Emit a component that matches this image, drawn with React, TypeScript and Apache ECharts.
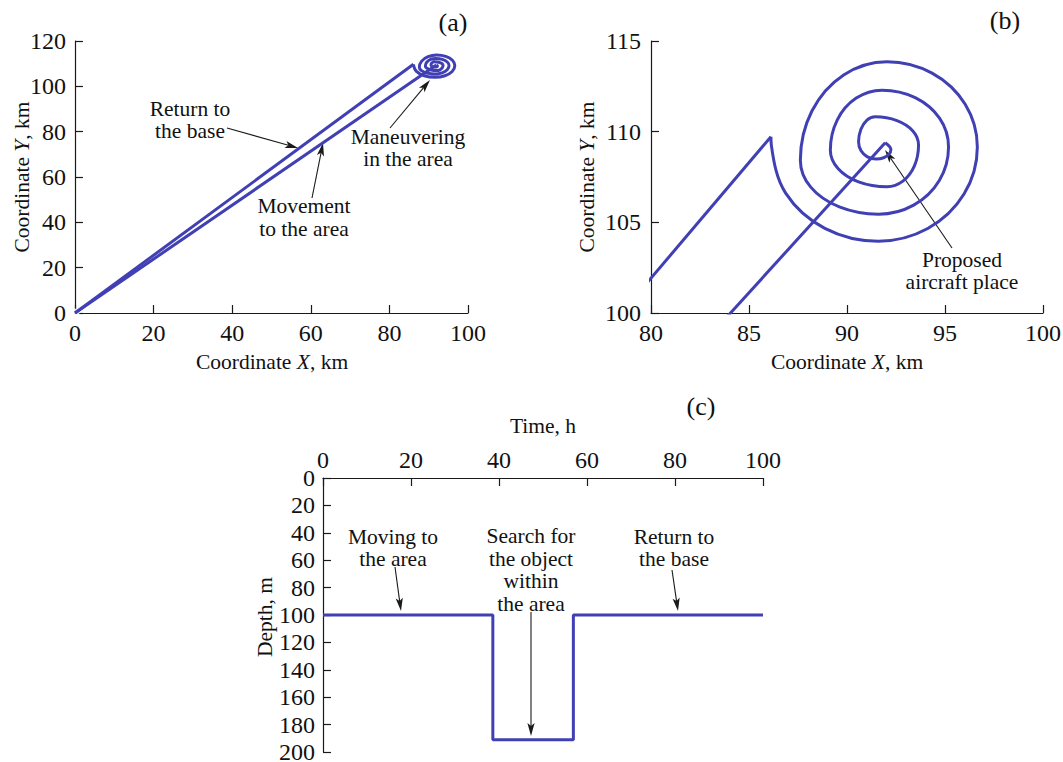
import React, { useEffect, useRef } from "react";
import * as echarts from "echarts";

// ---------- data ----------
// Trajectory of the aircraft in the horizontal plane (km)
const inboundPath: number[][] = [
  [0, 0],
  [91.95, 109.39],
];
// Search spiral, from the proposed aircraft place outwards
const spiralPath: number[][] = [
  [91.95, 109.39],
  [92.24, 109.02],
  [92.14, 108.75],
  [91.87, 108.56],
  [91.49, 108.49],
  [91.04, 108.61],
  [90.71, 108.96],
  [90.59, 109.44],
  [90.71, 110.13],
  [91.02, 110.64],
  [91.44, 110.82],
  [92.55, 110.61],
  [93.36, 110.04],
  [93.65, 109.26],
  [93.44, 108.11],
  [92.85, 107.27],
  [92.04, 106.96],
  [90.59, 107.23],
  [89.54, 107.97],
  [89.15, 108.98],
  [89.5, 110.64],
  [90.47, 111.85],
  [91.79, 112.29],
  [93.48, 111.88],
  [94.73, 110.73],
  [95.18, 109.16],
  [94.71, 107.31],
  [93.4, 105.95],
  [91.61, 105.45],
  [89.61, 105.85],
  [88.15, 106.94],
  [87.62, 108.43],
  [88.21, 111.14],
  [89.83, 113.13],
  [92.04, 113.86],
  [94.34, 113.23],
  [96.03, 111.51],
  [96.65, 109.16],
  [95.97, 106.56],
  [94.12, 104.66],
  [91.6, 103.96],
  [88.87, 104.67],
  [86.87, 106.61],
  [86.14, 109.26],
  [86.12, 109.72],
];
const returnPath: number[][] = [
  [86.12, 109.72],
  [0, 0],
];
const basePoint: number[][] = [[0, 0]];

// Depth profile over time
const timeH = [0, 38.6, 38.6, 56.9, 56.9, 100];
const depthM = [100, 100, 191, 191, 100, 100];

// Axis ranges / tick steps
const axA = { xMin: 0, xMax: 100, xStep: 20, yMin: 0, yMax: 120, yStep: 20 };
const axB = { xMin: 80, xMax: 100, xStep: 5, yMin: 100, yMax: 115, yStep: 5 };
const axC = { xMin: 0, xMax: 100, xStep: 20, yMin: 0, yMax: 200, yStep: 20 };

// ---------- style ----------
const SERIF = "'Liberation Serif', 'Times New Roman', serif";
const LINE_COLOR = "#4040b4";
const INK = "#1a1a1a";
const TICK_FS = 24;
const TEXT_FS = 21.5;

function labelStyle(margin: number, extra: any = {}) {
  return {
    fontFamily: SERIF,
    fontSize: TICK_FS,
    color: "#111",
    showMinLabel: true,
    showMaxLabel: true,
    margin,
    ...extra,
  };
}

function axis(extra: any) {
  return {
    type: "value",
    axisLine: { show: true, onZero: false, lineStyle: { color: INK, width: 1.2 } },
    axisTick: { show: true, inside: true, length: 8, lineStyle: { color: INK, width: 1.2 } },
    splitLine: { show: false },
    ...extra,
  };
}

function arrow(x1: number, y1: number, x2: number, y2: number) {
  const dx = x2 - x1;
  const dy = y2 - y1;
  const L = Math.hypot(dx, dy);
  const ux = dx / L;
  const uy = dy / L;
  const hl = 13;
  const hw = 3.6;
  const bx = x2 - ux * hl;
  const by = y2 - uy * hl;
  const nx = -uy;
  const ny = ux;
  const notchX = bx + ux * 3;
  const notchY = by + uy * 3;
  return [
    {
      type: "line",
      silent: true,
      shape: { x1, y1, x2: notchX, y2: notchY },
      style: { stroke: INK, lineWidth: 1.1 },
    },
    {
      type: "polygon",
      silent: true,
      shape: {
        points: [
          [x2, y2],
          [bx + nx * hw, by + ny * hw],
          [notchX, notchY],
          [bx - nx * hw, by - ny * hw],
        ],
      },
      style: { fill: INK },
    },
  ];
}

function label(text: string, x: number, y: number, extra: any = {}) {
  const { style: extraStyle, ...rest } = extra;
  return {
    type: "text",
    silent: true,
    x,
    y,
    ...rest,
    style: {
      text,
      fontFamily: SERIF,
      fontSize: TEXT_FS,
      lineHeight: 22.5,
      fill: "#111",
      textAlign: "center",
      textVerticalAlign: "middle",
      rich: {
        i: { fontFamily: SERIF, fontSize: TEXT_FS, fontStyle: "italic", fill: "#111" },
      },
      ...(extraStyle || {}),
    },
  };
}

function lineSeries(data: number[][], axisIdx: number, smooth: number | boolean = false) {
  return {
    type: "line",
    xAxisIndex: axisIdx,
    yAxisIndex: axisIdx,
    data,
    smooth,
    symbol: "none",
    clip: true,
    lineStyle: { color: LINE_COLOR, width: 3 },
    itemStyle: { color: LINE_COLOR },
  };
}

export default function App() {
  const ref = useRef<HTMLDivElement>(null);

  useEffect(() => {
    if (!ref.current) return;
    const chart = echarts.init(ref.current, undefined, { renderer: "svg" });

    const depthData = timeH.map((t, i) => [t, depthM[i]]);

    const option: any = {
      animation: false,
      backgroundColor: "#ffffff",
      grid: [
        { left: 75, top: 41, width: 393, height: 272, outerBoundsMode: "none" },
        { left: 651, top: 41, width: 392, height: 272, outerBoundsMode: "none" },
        { left: 323, top: 478, width: 440, height: 274, outerBoundsMode: "none" },
      ],
      xAxis: [
        axis({ gridIndex: 0, min: axA.xMin, max: axA.xMax, interval: axA.xStep, axisLabel: labelStyle(8) }),
        axis({ gridIndex: 1, min: axB.xMin, max: axB.xMax, interval: axB.xStep, axisLabel: labelStyle(8) }),
        axis({ gridIndex: 2, position: "top", min: axC.xMin, max: axC.xMax, interval: axC.xStep, axisLabel: labelStyle(6) }),
      ],
      yAxis: [
        axis({ gridIndex: 0, min: axA.yMin, max: axA.yMax, interval: axA.yStep, axisLabel: labelStyle(9) }),
        axis({ gridIndex: 1, min: axB.yMin, max: axB.yMax, interval: axB.yStep, axisLabel: labelStyle(10) }),
        axis({
          gridIndex: 2,
          inverse: true,
          min: axC.yMin,
          max: axC.yMax,
          interval: axC.yStep,
          axisLabel: labelStyle(8, { padding: [0, 0, 4, 0] }),
        }),
      ],
      series: [
        lineSeries(inboundPath, 0),
        lineSeries(spiralPath, 0, 0.35),
        lineSeries(returnPath, 0),
        {
          type: "scatter",
          xAxisIndex: 0,
          yAxisIndex: 0,
          data: basePoint,
          symbol: "emptyCircle",
          symbolSize: 7,
          itemStyle: { color: "#ffffff", borderColor: "#9aa4cc", borderWidth: 1 },
          z: 1,
        },
        lineSeries(inboundPath, 1),
        lineSeries(spiralPath, 1, 0.35),
        lineSeries(returnPath, 1),
        lineSeries(depthData, 2),
      ],
      graphic: [
        // panel letters
        label("(a)", 453, 22, { style: { fontSize: 26 } }),
        label("(b)", 1005, 20, { style: { fontSize: 26 } }),
        label("(c)", 701, 406, { style: { fontSize: 26 } }),
        // axis names
        label("Coordinate {i|X}, km", 272, 362),
        label("Coordinate {i|Y}, km", 22, 177, { rotation: Math.PI / 2 }),
        label("Coordinate {i|X}, km", 847, 362),
        label("Coordinate {i|Y}, km", 587, 177, { rotation: Math.PI / 2 }),
        label("Time, h", 543, 426),
        label("Depth, m", 265, 617, { rotation: Math.PI / 2 }),
        // annotations (a)
        label("Return to\nthe base", 190, 120),
        ...arrow(227, 128, 298, 148),
        label("Movement\nto the area", 304, 217.5),
        ...arrow(312, 198, 323, 143),
        label("Maneuvering\nin the area", 408, 148),
        ...arrow(390, 128, 430, 80),
        // annotations (b)
        label("Proposed\naircraft place", 962, 271),
        ...arrow(952, 248, 885, 150),
        // annotations (c)
        label("Moving to\nthe area", 393, 548),
        ...arrow(395, 567, 401, 611),
        label("Search for\nthe object\nwithin\nthe area", 531, 570),
        ...arrow(531, 612, 531, 736),
        label("Return to\nthe base", 674, 548),
        ...arrow(672, 570, 678, 611),
      ],
    };

    chart.setOption(option);
    return () => {
      chart.dispose();
    };
  }, []);

  return (
    <div
      ref={ref}
      style={{ position: "absolute", left: 0, top: 0, width: 1063, height: 762, background: "#fff" }}
    />
  );
}
